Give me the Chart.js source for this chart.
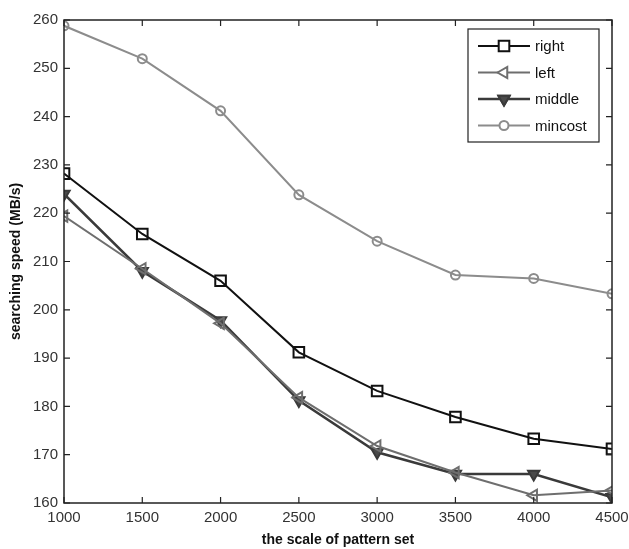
<!DOCTYPE html>
<html>
<head>
<meta charset="utf-8">
<script src="https://cdn.jsdelivr.net/npm/chart.js@4/dist/chart.umd.min.js"></script>
<style>
  html, body { margin: 0; padding: 0; background: #fff; }
  #wrap { width: 629px; height: 549px; position: relative; }
</style>
</head>
<body>
<div id="wrap"><canvas id="c" width="629" height="549"></canvas></div>
<script>
const categories = [1000, 1500, 2000, 2500, 3000, 3500, 4000, 4500];
const rightVals   = [228.2, 215.7, 206.0, 191.2, 183.2, 177.8, 173.3, 171.2];
const leftVals    = [219.4, 208.5, 197.2, 181.8, 171.8, 166.3, 161.6, 162.6];
const middleVals  = [224.0, 208.0, 197.8, 181.2, 170.5, 166.0, 166.0, 161.2];
const mincostVals = [258.8, 252.0, 241.2, 223.8, 214.2, 207.2, 206.5, 203.3];
const xTicks = [1000, 1500, 2000, 2500, 3000, 3500, 4000, 4500];
const yTicks = [160, 170, 180, 190, 200, 210, 220, 230, 240, 250, 260];

const FONT = "'Liberation Sans', Arial, sans-serif";

function pts(vals) { return categories.map((x, i) => ({ x: x, y: vals[i] })); }

const datasets = [
  { label: 'right', data: pts(rightVals), borderColor: '#111', pointBorderColor: '#111', pointBackgroundColor: 'rgba(0,0,0,0)',
    borderWidth: 2, pointStyle: 'rect', pointRadius: 7.5, pointBorderWidth: 2, pointRotation: 0 },
  { label: 'left', data: pts(leftVals), borderColor: '#6e6e6e', pointBorderColor: '#6e6e6e', pointBackgroundColor: 'rgba(0,0,0,0)',
    borderWidth: 2, pointStyle: 'triangle', pointRadius: 6.5, pointBorderWidth: 2, pointRotation: -90 },
  { label: 'middle', data: pts(middleVals), borderColor: '#3a3a3a', pointBorderColor: '#3a3a3a', pointBackgroundColor: '#4a4a4a',
    borderWidth: 2.5, pointStyle: 'triangle', pointRadius: 6.5, pointBorderWidth: 2, pointRotation: 180 },
  { label: 'mincost', data: pts(mincostVals), borderColor: '#8c8c8c', pointBorderColor: '#8c8c8c', pointBackgroundColor: 'rgba(0,0,0,0)',
    borderWidth: 2, pointStyle: 'circle', pointRadius: 4.5, pointBorderWidth: 2, pointRotation: 0 }
];

const framePlugin = {
  id: 'frame',
  afterDatasetsDraw(chart) {
    const ctx = chart.ctx, a = chart.chartArea;
    const xs = chart.scales.x, ys = chart.scales.y;
    ctx.save();
    ctx.strokeStyle = '#222';
    ctx.lineWidth = 1.5;
    ctx.strokeRect(a.left, a.top, a.right - a.left, a.bottom - a.top);
    ctx.lineWidth = 1.2;
    const tl = 6;
    ctx.beginPath();
    xTicks.forEach(v => {
      const x = xs.getPixelForValue(v);
      ctx.moveTo(x, a.bottom); ctx.lineTo(x, a.bottom - tl);
      ctx.moveTo(x, a.top); ctx.lineTo(x, a.top + tl);
    });
    yTicks.forEach(v => {
      const y = ys.getPixelForValue(v);
      ctx.moveTo(a.left, y); ctx.lineTo(a.left + tl, y);
      ctx.moveTo(a.right, y); ctx.lineTo(a.right - tl, y);
    });
    ctx.stroke();

    // legend box inside plot (top right)
    const bx = 468, by = 29, bw = 131, bh = 113;
    ctx.fillStyle = '#fff';
    ctx.fillRect(bx, by, bw, bh);
    ctx.strokeStyle = '#222';
    ctx.lineWidth = 1.2;
    ctx.strokeRect(bx, by, bw, bh);
    const rowH = 26.5;
    chart.data.datasets.forEach((ds, i) => {
      const cy = by + 17 + i * rowH;
      ctx.strokeStyle = ds.borderColor;
      ctx.lineWidth = ds.borderWidth;
      ctx.beginPath();
      ctx.moveTo(bx + 10, cy); ctx.lineTo(bx + 62, cy);
      ctx.stroke();
      ctx.fillStyle = '#fff';
      ctx.strokeStyle = ds.pointBorderColor;
      ctx.lineWidth = ds.pointBorderWidth;
      Chart.helpers.drawPoint(ctx, {
        pointStyle: ds.pointStyle, radius: ds.pointRadius, rotation: ds.pointRotation,
        borderWidth: ds.pointBorderWidth
      }, bx + 36, cy);
      if (ds.label === 'middle') {
        ctx.fillStyle = ds.pointBackgroundColor;
        Chart.helpers.drawPoint(ctx, {
          pointStyle: ds.pointStyle, radius: ds.pointRadius, rotation: ds.pointRotation,
          borderWidth: ds.pointBorderWidth
        }, bx + 36, cy);
      }
      ctx.fillStyle = '#111';
      ctx.font = '15px ' + FONT;
      ctx.textBaseline = 'middle';
      ctx.textAlign = 'left';
      ctx.fillText(ds.label, bx + 67, cy + 1);
    });
    ctx.restore();
  }
};

new Chart(document.getElementById('c'), {
  type: 'line',
  data: { datasets: datasets },
  options: {
    responsive: false,
    animation: false,
    devicePixelRatio: 1,
    layout: { padding: { left: 0, top: 20, right: 17, bottom: 0 } },
    plugins: { legend: { display: false }, tooltip: { enabled: false } },
    elements: { line: { tension: 0 } },
    scales: {
      x: {
        type: 'linear', min: 1000, max: 4500,
        afterBuildTicks(s) { s.ticks = xTicks.map(v => ({ value: v })); },
        afterFit(s) { s.height = 46; s.paddingLeft = 0; s.paddingRight = 0; },
        grid: { display: false, drawTicks: false },
        border: { display: false },
        ticks: { color: '#333', padding: 6, maxRotation: 0, autoSkip: false, font: { family: FONT, size: 15 },
          callback: v => String(v) },
        title: { display: true, text: 'the scale of pattern set', color: '#111', padding: { top: 0, bottom: 0 },
          font: { family: FONT, size: 14, weight: 'bold' } }
      },
      y: {
        type: 'linear', min: 160, max: 260,
        afterBuildTicks(s) { s.ticks = yTicks.map(v => ({ value: v })); },
        afterFit(s) { s.width = 64; s.paddingTop = 0; s.paddingBottom = 0; },
        grid: { display: false, drawTicks: false },
        border: { display: false },
        ticks: { color: '#333', padding: 6, autoSkip: false, font: { family: FONT, size: 15 },
          callback: v => String(v) },
        title: { display: true, text: 'searching speed (MB/s)', color: '#111', padding: { top: 8, bottom: 0 },
          font: { family: FONT, size: 14, weight: 'bold' } }
      }
    }
  },
  plugins: [framePlugin]
});
</script>
</body>
</html>
